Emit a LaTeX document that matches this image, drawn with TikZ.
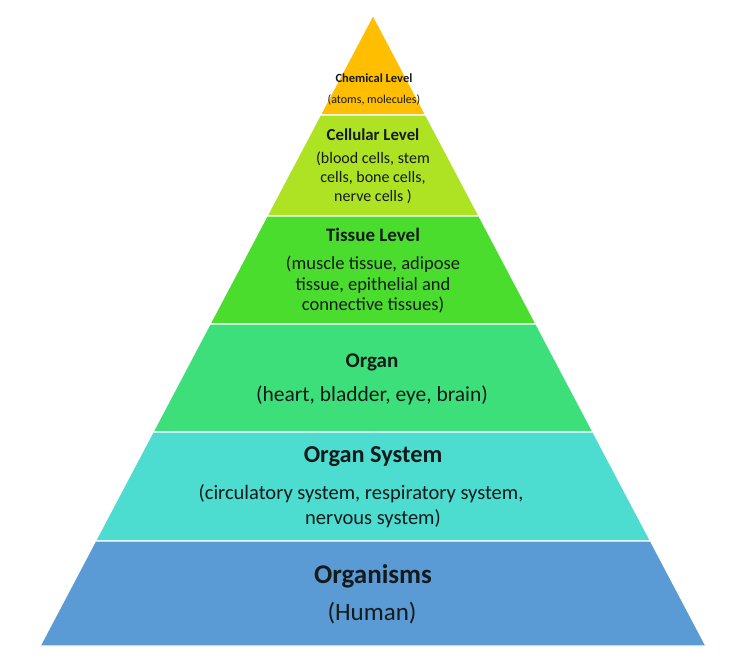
\documentclass[tikz,border=0pt]{standalone}
\usepackage{fontspec}
\setmainfont{Carlito}
\definecolor{chemcol}{HTML}{FFBE00}
\definecolor{cellcol}{HTML}{AEE324}
\definecolor{tisscol}{HTML}{4ADD2E}
\definecolor{organcol}{HTML}{3DDF7A}
\definecolor{syscol}{HTML}{4CDCD0}
\definecolor{orgmcol}{HTML}{5A9BD5}
\definecolor{txt}{HTML}{151A1A}
\tikzset{
  head/.style={text=txt, inner sep=0pt, font=\fontsize{#1}{#1}\selectfont\bfseries},
  sub/.style 2 args={text=txt, inner sep=0pt, align=center, font=\fontsize{#1}{#2}\selectfont},
}
\begin{document}
\begin{tikzpicture}[x=1pt,y=-1pt]
\useasboundingbox (0,0) rectangle (735,662);
% pyramid bands, apex at (373,15), base from 40 to 706
\foreach \ya/\yb/\col in {15/115/chemcol, 115/216/cellcol, 216/324/tisscol,
    324/432/organcol, 432/541/syscol, 541/646/orgmcol}
  \filldraw[fill=\col, draw=white, line width=1.2pt]
    ({373-0.5277*(\ya-15)},\ya) -- ({373+0.5277*(\ya-15)},\ya)
    -- ({373+0.5277*(\yb-15)},\yb) -- ({373-0.5277*(\yb-15)},\yb) -- cycle;
% labels
\node[head=12.5] (chem) at (374,78) {Chemical Level};
\node[sub={12}{14}] (chemsub) at (374,100) {(atoms, molecules)};
\node[head=16.8] (cell) at (373,135) {Cellular Level};
\node[sub={16}{19}] (cellsub) at (373,178) {(blood cells, stem\\cells, bone cells,\\nerve cells )};
\node[head=19] (tiss) at (373,235) {Tissue Level};
\node[sub={18.5}{20.5}] (tisssub) at (373,285) {(muscle tissue, adipose\\tissue, epithelial and\\connective tissues)};
\node[head=21] (organ) at (372,362) {Organ};
\node[sub={21.5}{25}] (organsub) at (372,395) {(heart, bladder, eye, brain)};
\node[head=24.3] (sys) at (373,457) {Organ System};
\node[sub={20.5}{25}] (syssub) at (373,506) {(circulatory system, respiratory system,\hspace*{24pt}\\nervous system)};
\node[head=27] (orgm) at (373,576) {Organisms};
\node[sub={25}{28}] (orgmsub) at (372,613) {(Human)};
\end{tikzpicture}
\end{document}
